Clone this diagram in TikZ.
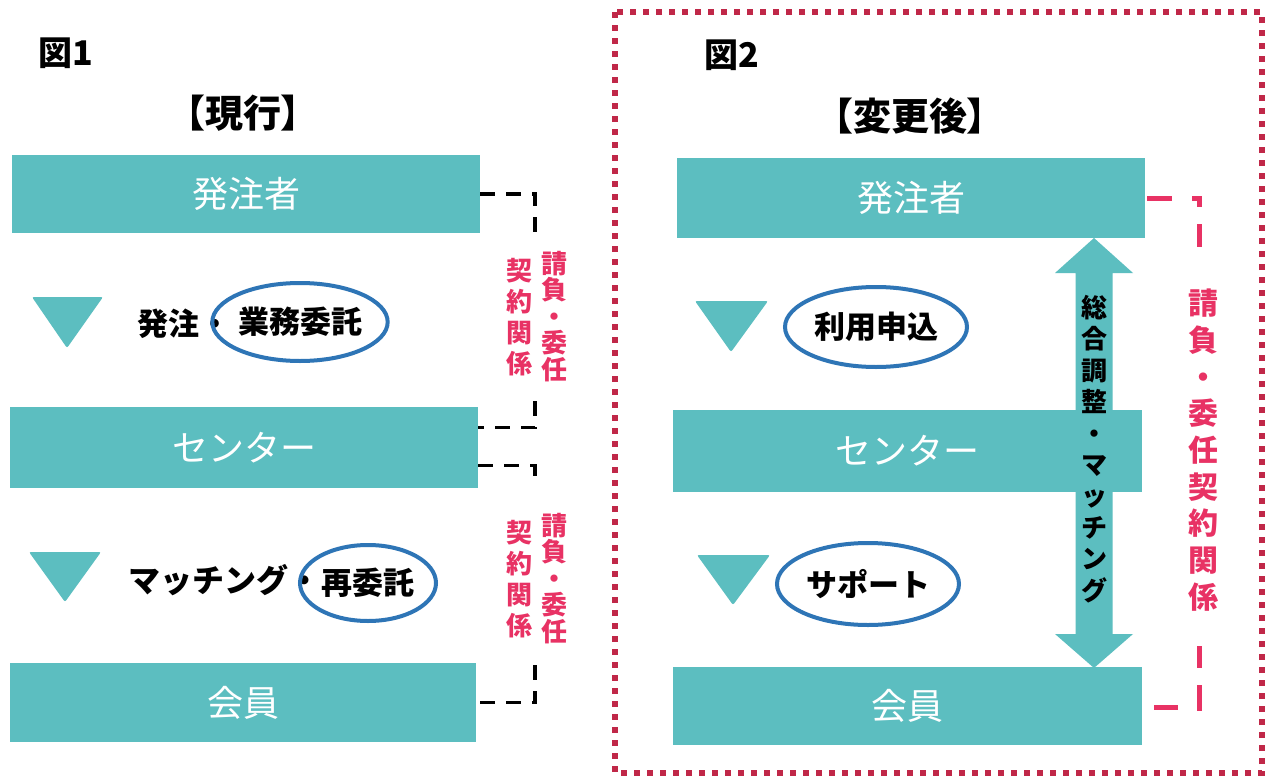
\documentclass[tikz,border=0pt]{standalone}
\usepackage{fontspec}
\setmainfont{Noto Sans CJK JP}
\usetikzlibrary{shapes.geometric}
\definecolor{tealbox}{RGB}{92,190,192}
\definecolor{ellblue}{RGB}{46,117,182}
\definecolor{redtxt}{RGB}{232,50,100}
\definecolor{framered}{RGB}{192,40,72}
\begin{document}
\begin{tikzpicture}[x=1pt,y=-1pt,
  tbox/.style={rectangle, fill=tealbox, text=white, font=\fontsize{36}{40}\selectfont, inner sep=0},
  oval/.style={ellipse, draw=ellblue, line width=4pt, inner sep=0, font=\bfseries\fontsize{31}{34}\selectfont},
  plain/.style={font=\bfseries\fontsize{31}{34}\selectfont, inner sep=0},
  title/.style={font=\bfseries\fontsize{34}{38}\selectfont, inner sep=0},
  head/.style={font=\bfseries\fontsize{38}{42}\selectfont\addfontfeatures{RawFeature=+palt}, inner sep=0},
  tri/.style={fill=tealbox, rounded corners=2pt},
  bdash/.style={draw=black, line width=3.5pt, dash pattern=on 15pt off 11pt},
  rseg/.style={draw=redtxt, line width=5pt},
  vred/.style={text=redtxt, font=\bfseries\fontsize{26}{26.5}\selectfont, align=center, inner sep=0},
]
\useasboundingbox (0,0) rectangle (1275,779);
\fill[white] (0,0) rectangle (1275,779);

% titles
\node[title] (t1) at (66,53) {図1};
\node[head] (h1) at (243,113) {【現行】};
\node[title] (t2) at (732,55) {図2};
\node[head] (h2) at (910,116) {【変更後】};

% left boxes
\node[tbox, minimum width=468pt, minimum height=78pt] (L1) at (246,194) {発注者};
\node[tbox, minimum width=468pt, minimum height=81pt] (L2) at (244,447.5) {センター};
\node[tbox, minimum width=466pt, minimum height=79pt] (L3) at (243,702.5) {会員};

% right boxes
\node[tbox, minimum width=468pt, minimum height=80pt] (R1) at (911,198) {発注者};
\node[tbox, minimum width=469pt, minimum height=82pt] (R2) at (907.5,451) {センター};
\node[tbox, minimum width=469pt, minimum height=78pt] (R3) at (907.5,706) {会員};

% triangles
\fill[tri] (32,297) -- (103,297) -- (67,348) -- cycle;
\fill[tri] (29,552) -- (101,552) -- (65,602) -- cycle;
\fill[tri] (695,301) -- (768,301) -- (731,352) -- cycle;
\fill[tri] (697,555) -- (770,555) -- (733,605) -- cycle;

% left labels
\node[plain, anchor=west] (p1) at (137,324) {発注・};
\node[oval, minimum width=174pt, minimum height=78pt] (E1) at (300,322) {業務委託};
\node[plain, anchor=west, font=\bfseries\fontsize{32}{34}\selectfont] (p2) at (128,580) {マッチング・};
\node[oval, minimum width=136pt, minimum height=76pt] (E2) at (368,583) {再委託};

% right labels
\node[oval, minimum width=182pt, minimum height=80pt] (E3) at (876,327) {利用申込};
\node[oval, minimum width=182pt, minimum height=82pt] (E4) at (868,584) {サポート};

% left brackets
\draw[bdash] (L1.east) -| (535,234);
\draw[bdash] (535,401) |- ([yshift=20pt]L2.east);
\draw[bdash] ([yshift=-18pt]L2.east) -| (535,484);
\draw[bdash] (535,665) |- (L3.east);

\node[vred] (ra1) at (554,316.5) {請\\負\\・\\委\\任};
\node[vred, font=\bfseries\fontsize{26}{31}\selectfont] (rb1) at (519,317.5) {契\\約\\関\\係};
\node[vred] (ra2) at (554,578.5) {請\\負\\・\\委\\任};
\node[vred, font=\bfseries\fontsize{26}{31}\selectfont] (rb2) at (519,579.5) {契\\約\\関\\係};

% arrow
\fill[tealbox] (1094,238) -- (1133,273) -- (1112.5,273) -- (1112.5,634) -- (1133,634)
  -- (1094,668) -- (1055,634) -- (1075.5,634) -- (1075.5,273) -- (1055,273) -- cycle;
\node[align=center, inner sep=0, font=\bfseries\fontsize{26}{31.4}\selectfont] (at) at (1094,449)
  {総\\合\\調\\整\\・\\マ\\ッ\\チ\\ン\\グ};

% right red bracket
\draw[rseg] ([xshift=2pt]R1.east) -- ++(25,0);
\draw[rseg] (1192,198) -- (1199,198) -- (1199,207);
\draw[rseg] (1199,224) -- (1199,247);
\draw[rseg] (1199,646) -- (1199,668);
\draw[rseg] (1199,685) -- (1199,711);
\draw[rseg] (1154,707) -- (1178,707);
\node[vred, font=\bfseries\fontsize{30}{36.7}\selectfont] (rc) at (1203,450)
  {請\\負\\・\\委\\任\\契\\約\\関\\係};

% frame
\draw[framered, line width=6pt, dash pattern=on 6pt off 7pt] (615,12) rectangle (1262,773);
\end{tikzpicture}
\end{document}
